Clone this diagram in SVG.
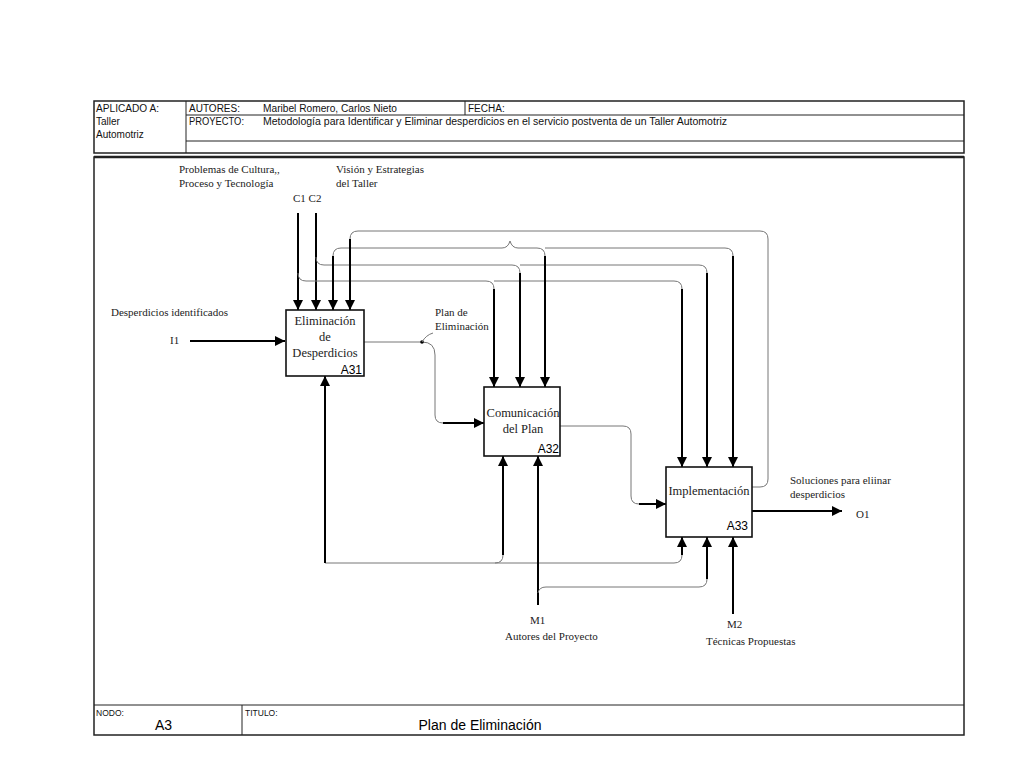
<svg xmlns="http://www.w3.org/2000/svg" width="1024" height="768" viewBox="0 0 1024 768">
<defs>
<marker id="ah" viewBox="0 0 10 10" refX="10" refY="5" markerWidth="5" markerHeight="5" orient="auto" markerUnits="strokeWidth">
<path d="M0,0 L10,5 L0,10 z" fill="#000"/>
</marker>
<style>
.frame{fill:none;stroke:#222;stroke-width:1.5}
.hl{stroke:#222;stroke-width:1;fill:none}
.hs{font-family:"Liberation Sans",Arial,sans-serif;font-size:10px;fill:#111}
.box{fill:#fff;stroke:#111;stroke-width:1.6}
.bt{font-family:"Liberation Serif","Times New Roman",serif;font-size:12.5px;fill:#222;text-anchor:middle}
.bid{font-family:"Liberation Sans",Arial,sans-serif;font-size:12px;fill:#000;text-anchor:end}
.lbl{font-family:"Liberation Serif","Times New Roman",serif;font-size:11px;fill:#222}
.thin{fill:none;stroke:#777;stroke-width:1}
.thick{fill:none;stroke:#000;stroke-width:2;marker-end:url(#ah)}
</style>
</defs>
<rect width="1024" height="768" fill="#fff"/>
<g id="header">
<rect class="frame" x="94" y="101" width="870" height="52"/>
<line class="hl" x1="186" y1="101" x2="186" y2="153"/>
<line class="hl" x1="465" y1="101" x2="465" y2="115"/>
<line class="hl" x1="186" y1="115" x2="964" y2="115"/>
<line class="hl" x1="186" y1="141" x2="964" y2="141"/>
<text class="hs" x="96" y="112" textLength="63" lengthAdjust="spacingAndGlyphs">APLICADO A:</text>
<text class="hs" x="96" y="125">Taller</text>
<text class="hs" x="96" y="138">Automotriz</text>
<text class="hs" x="189" y="112" textLength="51" lengthAdjust="spacingAndGlyphs">AUTORES:</text>
<text class="hs" x="263" y="112" textLength="134" lengthAdjust="spacingAndGlyphs">Maribel Romero, Carlos Nieto</text>
<text class="hs" x="468" y="112">FECHA:</text>
<text class="hs" x="189" y="125" textLength="55" lengthAdjust="spacingAndGlyphs">PROYECTO:</text>
<text class="hs" x="263" y="125" textLength="464" lengthAdjust="spacingAndGlyphs">Metodología para Identificar y Eliminar desperdicios en el servicio postventa de un Taller Automotriz</text>
</g>
<g id="frame">
<rect class="frame" x="94" y="157" width="870" height="578"/>
<line x1="94" y1="157" x2="964" y2="157" stroke="#222" stroke-width="2.5"/>
<line class="hl" x1="94" y1="705" x2="964" y2="705"/>
<line class="hl" x1="242" y1="705" x2="242" y2="735"/>
<text class="hs" x="96" y="716" style="font-size:8.5px">NODO:</text>
<text x="155" y="730" style="font-family:'Liberation Sans',Arial,sans-serif;font-size:14px">A3</text>
<text class="hs" x="245" y="716" style="font-size:8.5px">TITULO:</text>
<text x="480" y="730" text-anchor="middle" style="font-family:'Liberation Sans',Arial,sans-serif;font-size:14px">Plan de Eliminación</text>
</g>
<g id="connectors">
<line class="thick" x1="298" y1="213" x2="298" y2="310"/>
<line class="thick" x1="316" y1="213" x2="316" y2="310"/>
<path class="thin" d="M298,273 Q298,281 306,281 H486 Q494,281 494,289 M494,281 H674 Q682,281 682,289"/>
<line class="thick" x1="494" y1="289" x2="494" y2="387"/>
<line class="thick" x1="682" y1="289" x2="682" y2="467"/>
<path class="thin" d="M316,257 Q316,265 324,265 H512 Q520,265 520,273 M520,265 H699 Q707,265 707,273"/>
<line class="thick" x1="520" y1="273" x2="520" y2="387"/>
<line class="thick" x1="707" y1="273" x2="707" y2="467"/>
<path class="thin" d="M333,256 Q333,248 341,248 H502 Q508,248 510,241 Q512,248 518,248 H537 Q545,248 545,256 M545,248 H725 Q733,248 733,256"/>
<line class="thick" x1="333" y1="256" x2="333" y2="310"/>
<line class="thick" x1="545" y1="256" x2="545" y2="387"/>
<line class="thick" x1="733" y1="256" x2="733" y2="467"/>
<path class="thin" d="M752,487 H760 Q768,487 768,479 V239 Q768,231 760,231 H358 Q350,231 350,239"/>
<line class="thick" x1="350" y1="239" x2="350" y2="310"/>
<line class="thick" x1="190" y1="341" x2="285" y2="341"/>
<path class="thin" d="M364,342 H422 Q435,342 435,355 V415 Q435,423 443,423"/>
<circle cx="422" cy="342" r="1.8" fill="#000"/>
<path class="thin" d="M422,342 Q426,335 433,333"/>
<line class="thick" x1="443" y1="423" x2="484" y2="423"/>
<path class="thin" d="M560,426 H623 Q631,426 631,434 V496 Q631,504 639,504"/>
<line class="thick" x1="639" y1="504" x2="666" y2="504"/>
<line class="thick" x1="752" y1="511" x2="842" y2="511"/>
<path class="thin" d="M325,563 H674 Q682,563 682,555 M495,563 Q503,563 503,555"/>
<line class="thick" x1="325" y1="563" x2="325" y2="376"/>
<line class="thick" x1="503" y1="555" x2="503" y2="456"/>
<line class="thick" x1="682" y1="555" x2="682" y2="537"/>
<line class="thick" x1="538" y1="605" x2="538" y2="456"/>
<path class="thin" d="M538,593 Q539,587 546,587 H699 Q707,587 707,579"/>
<line class="thick" x1="707" y1="579" x2="707" y2="537"/>
<line class="thick" x1="733" y1="614" x2="733" y2="537"/>
</g>
<g id="A31">
<rect class="box" x="286" y="310" width="78" height="66"/>
<text class="bt" x="325" y="325">Eliminación</text>
<text class="bt" x="325" y="341">de</text>
<text class="bt" x="325" y="357">Desperdicios</text>
<text class="bid" x="362" y="374">A31</text>
</g>
<g id="A32">
<rect class="box" x="484" y="387" width="76" height="69"/>
<text class="bt" x="523" y="417">Comunicación</text>
<text class="bt" x="523" y="433">del Plan</text>
<text class="bid" x="559" y="453">A32</text>
</g>
<g id="A33">
<rect class="box" x="666" y="467" width="86" height="70"/>
<text class="bt" x="709" y="495">Implementación</text>
<text class="bid" x="748" y="530">A33</text>
</g>
<g id="labels">
<text class="lbl" x="179" y="173">Problemas de Cultura,,</text>
<text class="lbl" x="179" y="187">Proceso y Tecnología</text>
<text class="lbl" x="336" y="173">Visión y Estrategias</text>
<text class="lbl" x="336" y="187">del Taller</text>
<text class="lbl" x="293" y="202">C1 C2</text>
<text class="lbl" x="111" y="316">Desperdicios identificados</text>
<text class="lbl" x="170" y="344">I1</text>
<text class="lbl" x="435" y="316">Plan de</text>
<text class="lbl" x="435" y="330">Eliminación</text>
<text class="lbl" x="790" y="484">Soluciones para eliinar</text>
<text class="lbl" x="790" y="498">desperdicios</text>
<text class="lbl" x="856" y="518">O1</text>
<text class="lbl" x="530" y="624">M1</text>
<text class="lbl" x="505" y="640">Autores del Proyecto</text>
<text class="lbl" x="727" y="628">M2</text>
<text class="lbl" x="706" y="645">Técnicas Propuestas</text>
</g>
</svg>
